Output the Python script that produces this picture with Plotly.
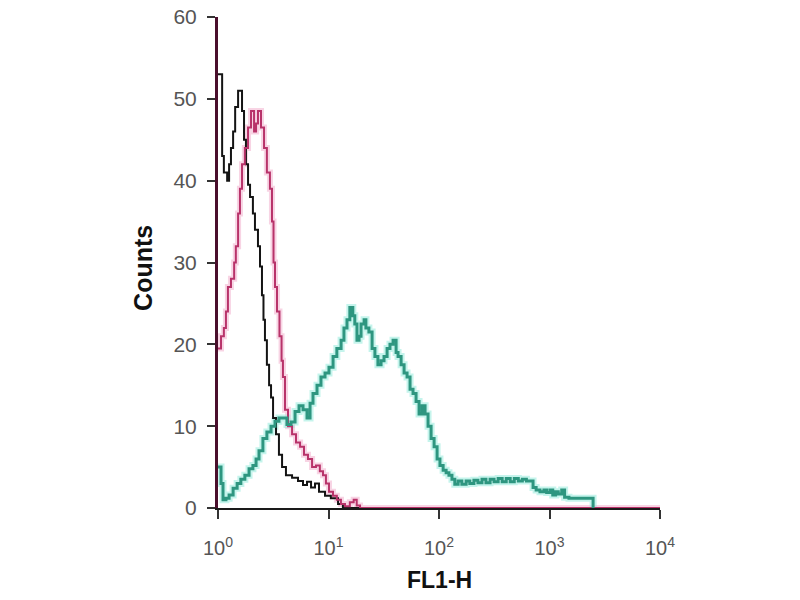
import plotly.graph_objects as go

# FL1-H channel values (fluorescence intensity) and counts for each histogram
black_x = [1.00, 1.04, 1.09, 1.13, 1.21, 1.26, 1.31, 1.37, 1.43, 1.52, 1.58, 1.65, 1.72, 1.79,
           1.87, 1.95, 2.07, 2.16, 2.30, 2.40, 2.50, 2.58, 2.66, 2.77, 2.90, 3.02, 3.15, 3.35,
           3.56, 3.80, 4.12, 4.68, 5.30, 5.88, 6.39, 6.95, 7.55, 8.20, 9.30, 10.5, 12.2, 13.5, 10000]
black_y = [53, 53, 43, 41, 40, 42, 44, 46, 49, 51, 51, 48.5, 45, 42,
           39.5, 38, 36, 34, 32, 29.5, 26, 23, 20.5, 17.5, 15, 13.5, 11, 9,
           6.5, 5, 4, 3.7, 3.3, 2.8, 3.2, 2.5, 3, 2, 1.5, 1.2, 0.5, 0, 0]

magenta_x = [1.00, 1.065, 1.13, 1.18, 1.23, 1.31, 1.40, 1.45, 1.52, 1.58, 1.65, 1.75, 1.87, 1.99,
             2.12, 2.21, 2.30, 2.45, 2.61, 2.77, 2.95, 3.08, 3.18, 3.28, 3.42, 3.60, 3.76, 3.87,
             4.04, 4.30, 4.68, 5.08, 5.53, 6.00, 6.52, 7.10, 7.70, 8.35, 8.92, 9.48, 10.1, 10.98,
             11.9, 12.96, 14.1, 15.6, 16.9, 18.0, 19.3, 10000]
magenta_y = [19.5, 21, 22, 24, 27, 28, 30, 32, 36, 39, 42, 44, 46.5, 48.5,
             46, 47, 48.5, 46.5, 44, 41, 39, 35, 30, 27, 24, 21, 18, 16,
             12, 10, 9, 8, 7.5, 6.5, 6, 5, 5.2, 4.5, 4, 3, 2, 1.5,
             1, 0.5, 0.2, 0.7, 1, 0.3, 0, 0]

teal_x = [1.00, 1.065, 1.11, 1.18, 1.26, 1.37, 1.49, 1.61, 1.75, 1.91, 2.07, 2.21, 2.35, 2.55,
          2.77, 3.02, 3.28, 3.56, 3.87, 4.21, 4.58, 4.98, 5.41, 5.88, 6.39, 6.81, 7.24, 7.87,
          8.55, 9.30, 10.1, 11.0, 11.9, 13.0, 13.8, 14.7, 15.6, 16.6, 17.3, 18.1, 18.9, 19.7,
          21.0, 21.8, 23.2, 24.8, 26.3, 28.0, 29.9, 31.8, 33.9, 36.0, 38.4, 40.9, 42.6, 45.4,
          48.3, 51.4, 54.7, 58.2, 62.0, 66.0, 70.3, 74.8, 79.6, 84.8, 90.3, 96.1, 102, 109,
          116, 123, 131, 139, 149, 161, 176, 190, 207, 225, 245, 266, 290, 315, 343, 373,
          406, 441, 480, 522, 568, 618, 672, 710, 757, 820, 890, 943, 1011, 1070, 1135, 1200,
          1290, 1370, 1500, 1690, 1890, 2100, 2330, 2480]
teal_y = [5, 3, 1, 1.2, 1.6, 2.4, 3, 3.5, 4, 4.8, 5.2, 6, 7, 8.5,
          9.3, 10, 10.6, 11, 11, 10.2, 10.5, 11.8, 12.5, 12, 11, 12.8, 14, 15,
          16, 16.5, 17.2, 18.5, 19.5, 20.5, 22, 23, 24.5, 23.5, 22.5, 20.5, 21, 22.5,
          23, 22, 21.5, 19.5, 18.5, 17.5, 18, 18.5, 19.5, 20, 20.5, 19, 18.5, 17.5,
          16.5, 16, 14.5, 14, 13, 11.5, 12.5, 11.5, 10, 8.5, 7.5, 6, 5.2, 4.6,
          4.3, 4, 3.5, 2.9, 3.3, 2.9, 3.3, 3, 3.4, 3.1, 3.5, 3.1, 3.5, 3.2, 3.6, 3.2,
          3.6, 3.2, 3.6, 3.3, 3.5, 3.3, 3.3, 2.5, 2.2, 2, 2.2, 1.9, 2.2, 1.6, 2, 1.7,
          2.2, 1.3, 1.2, 1.2, 1.2, 1.2, 1.2, 0]

x_tickvals = [1, 10, 100, 1000, 10000]
x_ticktext = ["10<sup>0</sup>", "10<sup>1</sup>", "10<sup>2</sup>", "10<sup>3</sup>", "10<sup>4</sup>"]
y_tickvals = [0, 10, 20, 30, 40, 50, 60]

fig = go.Figure()

# soft halos (blurred look of the original scan)
fig.add_trace(go.Scatter(x=magenta_x, y=magenta_y, mode="lines", line=dict(shape="hv", color="rgba(240,160,195,0.45)", width=6), hoverinfo="skip"))
fig.add_trace(go.Scatter(x=teal_x, y=teal_y, mode="lines", line=dict(shape="hv", color="rgba(150,235,220,0.55)", width=7), hoverinfo="skip"))

fig.add_trace(go.Scatter(x=black_x, y=black_y, mode="lines", line=dict(shape="hv", color="#141414", width=2), name="control"))
fig.add_trace(go.Scatter(x=magenta_x, y=magenta_y, mode="lines", line=dict(shape="hv", color="#b8336a", width=2), name="isotype"))
fig.add_trace(go.Scatter(x=teal_x, y=teal_y, mode="lines", line=dict(shape="hv", color="#2e9680", width=3), name="stained"))

label_font = "Liberation Sans, Arial"

fig.update_layout(
    width=800, height=600,
    paper_bgcolor="white", plot_bgcolor="white",
    showlegend=False,
    margin=dict(l=218, r=140, t=17, b=92, autoexpand=False),
    xaxis=dict(type="log", range=[0, 4], tickvals=x_tickvals, ticktext=x_ticktext, automargin=False,
               showgrid=False, zeroline=False, showline=True, linecolor="#1a1a1a", linewidth=2,
               ticks="outside", ticklen=9, tickwidth=2, tickcolor="#333333", ticklabelstandoff=12,
               tickfont=dict(family=label_font, size=20, color="#555555")),
    yaxis=dict(range=[0, 60], tickvals=y_tickvals, showgrid=False, zeroline=False, automargin=False,
               showline=True, linecolor="#4a0f2c", linewidth=3,
               ticks="outside", ticklen=8, tickwidth=2, tickcolor="#333333", ticklabelstandoff=6,
               tickfont=dict(family=label_font, size=21, color="#555555")),
    annotations=[
        dict(text="<b>Counts</b>", xref="paper", yref="paper", x=0, y=0.489, xanchor="center", yanchor="middle",
             xshift=-75, textangle=-90, showarrow=False,
             font=dict(family=label_font, size=25, color="#111111")),
        dict(text="<b>FL1-H</b>", xref="paper", yref="paper", x=0.502, y=0, xanchor="center", yanchor="middle",
             yshift=-72, showarrow=False,
             font=dict(family=label_font, size=23, color="#111111")),
    ],
)

fig.write_html("out.html", config={"displayModeBar": False},
               post_script="document.body.style.margin='0';document.body.style.overflow='hidden';")
